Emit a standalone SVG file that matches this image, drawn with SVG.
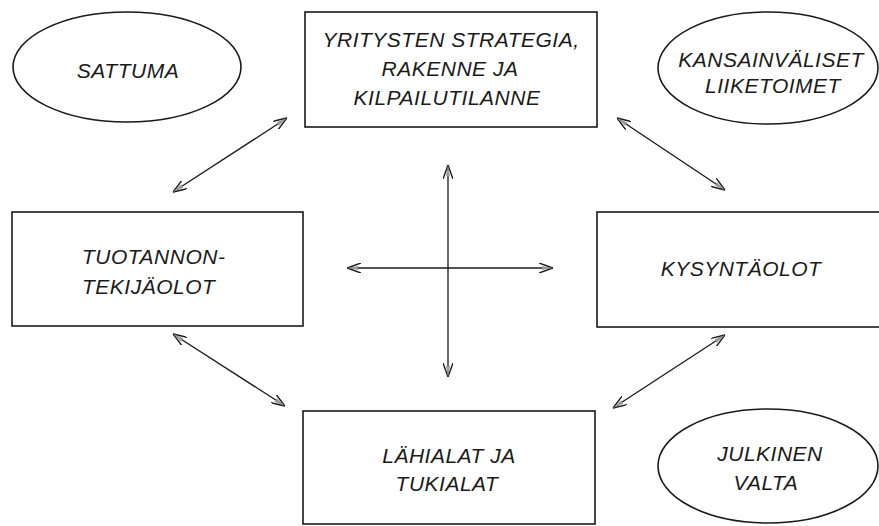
<svg xmlns="http://www.w3.org/2000/svg" width="879" height="526" viewBox="0 0 879 526">
  <style>
    .box { fill: #ffffff; stroke: #1a1a1a; stroke-width: 1.6; }
    .oval { fill: #ffffff; stroke: #1a1a1a; stroke-width: 1.6; }
    .lbl { font-family: "Liberation Sans", Arial, sans-serif; font-style: italic; font-size: 21px; fill: #1a1a1a; letter-spacing: 0.5px; }
    .mid { text-anchor: middle; }
    .conn { stroke: #1a1a1a; stroke-width: 1.3; fill: none; }
  </style>
  <defs>
    <marker id="ah" viewBox="0 0 14 10" refX="14" refY="5" markerWidth="14" markerHeight="10" markerUnits="userSpaceOnUse" orient="auto-start-reverse">
      <path d="M0,0 L14,5 L0,10" fill="none" stroke="#1a1a1a" stroke-width="1.4"/>
      <path d="M3,3 L14,5 L3,7 Z" fill="#9a9a9a" stroke="none"/>
    </marker>
  </defs>
  <rect width="879" height="526" fill="#ffffff"/>

  <g id="sattuma">
    <ellipse class="oval" cx="127" cy="67" rx="114" ry="55"/>
    <text class="lbl mid" x="128" y="78">SATTUMA</text>
  </g>

  <g id="yritysten-strategia">
    <rect class="box" x="305" y="12" width="292" height="115"/>
    <text class="lbl mid" x="451" y="47">YRITYSTEN STRATEGIA,</text>
    <text class="lbl mid" x="450" y="76">RAKENNE JA</text>
    <text class="lbl mid" x="447" y="105">KILPAILUTILANNE</text>
  </g>

  <g id="kansainvaliset">
    <ellipse class="oval" cx="768" cy="68" rx="110" ry="56"/>
    <text class="lbl mid" x="771" y="67">KANSAINVÄLISET</text>
    <text class="lbl mid" x="773" y="93">LIIKETOIMET</text>
  </g>

  <g id="tuotannontekijaolot">
    <rect class="box" x="12" y="212" width="291" height="114"/>
    <text class="lbl" x="82" y="264">TUOTANNON-</text>
    <text class="lbl" x="82" y="294">TEKIJÄOLOT</text>
  </g>

  <g id="kysyntaolot">
    <rect class="box" x="597" y="212" width="290" height="115"/>
    <text class="lbl mid" x="741" y="276">KYSYNTÄOLOT</text>
  </g>

  <g id="lahialat">
    <rect class="box" x="303" y="411" width="292" height="113"/>
    <text class="lbl mid" x="449" y="463">LÄHIALAT JA</text>
    <text class="lbl mid" x="447" y="491">TUKIALAT</text>
  </g>

  <g id="julkinen-valta">
    <ellipse class="oval" cx="768" cy="466" rx="110" ry="57"/>
    <text class="lbl mid" x="770" y="461">JULKINEN</text>
    <text class="lbl mid" x="766" y="490">VALTA</text>
  </g>

  <g id="connectors">
    <line class="conn" x1="173" y1="192" x2="287" y2="118" marker-start="url(#ah)" marker-end="url(#ah)"/>
    <line class="conn" x1="617" y1="118" x2="725" y2="190" marker-start="url(#ah)" marker-end="url(#ah)"/>
    <line class="conn" x1="173" y1="334" x2="285" y2="406" marker-start="url(#ah)" marker-end="url(#ah)"/>
    <line class="conn" x1="725" y1="335" x2="613" y2="408" marker-start="url(#ah)" marker-end="url(#ah)"/>
    <line class="conn" x1="448" y1="165" x2="448" y2="377" marker-start="url(#ah)" marker-end="url(#ah)"/>
    <line class="conn" x1="347" y1="268" x2="553" y2="268" marker-start="url(#ah)" marker-end="url(#ah)"/>
  </g>
</svg>
